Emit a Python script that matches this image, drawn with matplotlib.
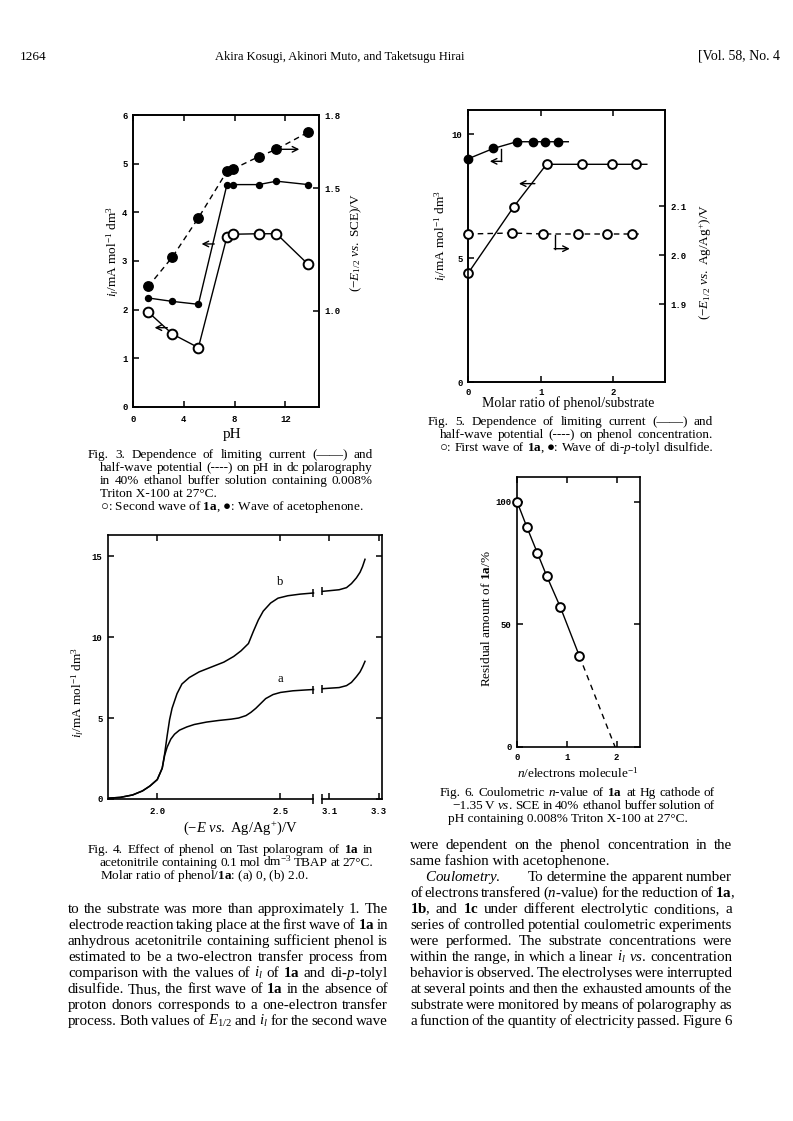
import numpy as np
import matplotlib
matplotlib.use("Agg")
import matplotlib.pyplot as plt

W, H = 793, 1121

plt.rcParams["font.family"] = ["Liberation Serif", "DejaVu Serif"]
plt.rcParams["mathtext.fontset"] = "custom"
plt.rcParams["mathtext.rm"] = "Liberation Serif"
plt.rcParams["mathtext.it"] = "Liberation Serif:italic"
plt.rcParams["mathtext.bf"] = "Liberation Serif:bold"

# ---- Fig. 3: limiting current / half-wave potential vs pH ----
ph = [1.2, 3.1, 5.15, 7.4, 7.9, 9.9, 11.3, 13.8]
il_1a_second = [1.95, 1.50, 1.22, 3.50, 3.55, 3.56, 3.56, 2.93]
il_aceto = [2.24, 2.17, 2.11, 4.57, 4.57, 4.57, 4.64, 4.57]
e12_aceto = [1.10, 1.22, 1.38, 1.57, 1.58, 1.63, 1.66, 1.73]
ph_ticks = [0, 4, 8, 12]
il3_ticks = [0, 1, 2, 3, 4, 5, 6]
e3_ticks = [1.0, 1.5, 1.8]

# ---- Fig. 5: phenol concentration ----
ratio_ds = [0.0, 0.35, 0.67, 0.89, 1.06, 1.24]
il_ds = [9.0, 9.42, 9.69, 9.69, 9.69, 9.69]
ds_line_end = 1.38
ratio_1a = [0.0, 0.63, 1.08, 1.57, 1.98, 2.31]
il_1a_first = [4.38, 7.07, 8.78, 8.78, 8.78, 8.78]
first_line_end = 2.46
ratio_e = [0.0, 0.6, 1.03, 1.52, 1.91, 2.25]
e12_1a = [2.043, 2.045, 2.043, 2.043, 2.043, 2.043]
e_line_end = 2.37
ratio_ticks = [0, 1, 2]
il5_ticks = [0, 5, 10]
e5_ticks = [1.9, 2.0, 2.1]

# ---- Fig. 4: Tast polarograms (broken potential axis) ----
e_break = (2.634, 3.072)
b_left_E = [1.80, 1.85, 1.90, 1.94, 1.97, 2.00, 2.02, 2.03, 2.04, 2.05, 2.06, 2.08,
            2.10, 2.13, 2.17, 2.22, 2.27, 2.31, 2.34, 2.37, 2.39, 2.41, 2.43, 2.46,
            2.49, 2.53, 2.58, 2.634]
b_left_i = [0.05, 0.10, 0.25, 0.50, 0.80, 1.20, 1.90, 2.80, 3.90, 4.90, 5.60, 6.50,
            7.10, 7.50, 7.85, 8.15, 8.45, 8.80, 9.15, 9.60, 10.35, 11.05, 11.60, 12.10,
            12.40, 12.55, 12.65, 12.72]
b_right_E = [3.072, 3.10, 3.14, 3.17, 3.19, 3.21, 3.225, 3.235, 3.245]
b_right_i = [12.82, 12.86, 12.92, 13.05, 13.30, 13.65, 14.00, 14.35, 14.80]
a_left_E = [1.80, 1.85, 1.90, 1.94, 1.97, 2.00, 2.02, 2.03, 2.04, 2.055, 2.07, 2.09,
            2.12, 2.15, 2.20, 2.25, 2.30, 2.33, 2.36, 2.38, 2.40, 2.42, 2.44, 2.47,
            2.50, 2.55, 2.60, 2.634]
a_left_i = [0.05, 0.10, 0.25, 0.50, 0.80, 1.20, 1.90, 2.70, 3.20, 3.70, 4.00, 4.25,
            4.45, 4.60, 4.75, 4.85, 4.93, 5.00, 5.15, 5.35, 5.60, 5.90, 6.20, 6.45,
            6.58, 6.68, 6.73, 6.76]
a_right_E = [3.072, 3.10, 3.14, 3.17, 3.19, 3.21, 3.225, 3.235, 3.245]
a_right_i = [6.81, 6.84, 6.88, 7.00, 7.20, 7.55, 7.85, 8.15, 8.50]
e4_ticks = [2.0, 2.5, 3.1, 3.3]
il4_ticks = [0, 5, 10, 15]

# ---- Fig. 6: coulometry ----
n_el = [0.0, 0.2, 0.41, 0.6, 0.87, 1.25]
residual = [100, 89.5, 79.0, 69.5, 57.0, 37.2]
extrap_n = [1.25, 1.97]
extrap_res = [37.2, 0.0]
n_ticks = [0, 1, 2]
res_ticks = [0, 50, 100]

TICK = dict(fontfamily="Liberation Mono", fontweight="bold", fontsize=6.5)
OPEN = dict(marker="o", mfc="white", mec="k", mew=1.4, clip_on=False, zorder=4)
FILL = dict(marker="o", mfc="k", mec="k", clip_on=False, zorder=4)
ARROW = dict(arrowstyle="->", lw=1.0, color="k", mutation_scale=10,
             shrinkA=0, shrinkB=0)
CAP = 9.5     # caption size
BODY = 10.8   # running text size
LAB = 9.5     # axis label size

fig = plt.figure(figsize=(W / 100, H / 100), dpi=100)
renderer = fig.canvas.get_renderer()


def box(x0, y0, x1, y1):
    return fig.add_axes([x0 / W, 1 - y1 / H, (x1 - x0) / W, (y1 - y0) / H])


def frame(ax, **sides):
    for sp in ax.spines.values():
        sp.set_linewidth(1.2)
    ax.tick_params(direction="in", length=4.5, width=1.1, pad=4, **sides)


def ptext(x, y, s, **kw):
    return fig.text(x / W, 1 - y / H, s, **kw)


def put_line(s, x0, x1, y, size, justify=True):
    if not justify:
        ptext(x0, y, s, fontsize=size, va="baseline")
        return
    words = s.split()
    arts = [ptext(x0, y, w, fontsize=size, va="baseline") for w in words]
    widths = [a.get_window_extent(renderer).width for a in arts]
    gap = max((x1 - x0 - sum(widths)) / max(len(words) - 1, 1), 2.0)
    x = x0
    for a, w in zip(arts, widths):
        a.set_x(x / W)
        x += w + gap


# header
ptext(20, 60, "1264", fontsize=9.5, va="baseline")
ptext(340, 60, "Akira Kosugi, Akinori Muto, and Taketsugu Hirai", fontsize=9,
      va="baseline", ha="center")
ptext(780, 60, "[Vol. 58, No. 4", fontsize=10, va="baseline", ha="right")

# ================= Fig. 3 =================
ax3 = box(133, 115, 319, 407)
frame(ax3, top=True)
ax3.set_xlim(0, 14.65)
ax3.set_ylim(0, 6)
ax3.set_xticks(ph_ticks, [str(t) for t in ph_ticks], **TICK)
ax3.set_yticks(il3_ticks, [str(t) for t in il3_ticks], **TICK)
ax3.tick_params(axis="x", pad=6)
ax3.plot(ph, il_aceto, "-", color="k", lw=1, ms=4.3, **FILL)
ax3.plot(ph, il_1a_second, "-", color="k", lw=1, ms=7, **OPEN)
ax3r = ax3.twinx()
frame(ax3r)
ax3r.set_ylim(0.608, 1.8)
ax3r.set_yticks(e3_ticks, [f"{t:.1f}" for t in e3_ticks], **TICK)
ax3r.plot(ph, e12_aceto, color="k", lw=1, ls=(0, (4, 3)), ms=6.8, **FILL)
ax3r.annotate("", xy=(13.1, 1.66), xytext=(11.7, 1.66), arrowprops=ARROW)
ax3.annotate("", xy=(5.4, 3.35), xytext=(6.4, 3.35), arrowprops=ARROW)
ax3.annotate("", xy=(1.7, 1.63), xytext=(2.7, 1.63), arrowprops=ARROW)
ptext(113, 252, r"$i_l$/mA mol$^{-1}$ dm$^3$", fontsize=LAB, rotation=90,
      ha="center", va="center")
ptext(356, 243, r"($-E_{1/2}$ $\mathit{vs.}$ SCE)/V", fontsize=LAB, rotation=90,
      ha="center", va="center")
ptext(232, 434, "pH", fontsize=11, ha="center", va="center")

cap3 = ["Fig. 3.  Dependence of limiting current (——) and",
        "half-wave potential (----) on pH in dc polarography",
        "in 40% ethanol buffer solution containing 0.008%",
        "Triton X-100 at 27°C.",
        r"○: Second wave of $\mathbf{1a}$, ●: Wave of acetophenone."]
put_line(cap3[0], 88, 373, 458, CAP)
put_line(cap3[1], 100, 373, 471, CAP)
put_line(cap3[2], 100, 373, 484, CAP)
put_line(cap3[3], 100, 373, 497, CAP, justify=False)
put_line(cap3[4], 100, 373, 510, CAP, justify=False)

# ================= Fig. 5 =================
ax5 = box(468, 110, 665, 382)
frame(ax5, top=True)
ax5.set_xlim(0, 2.71)
ax5.set_ylim(0, 10.97)
ax5.set_xticks(ratio_ticks, [str(t) for t in ratio_ticks], **TICK)
ax5.set_yticks(il5_ticks, [str(t) for t in il5_ticks], **TICK)
ax5.plot([*ratio_ds, ds_line_end], [*il_ds, il_ds[-1]], "k-", lw=1)
ax5.plot(ratio_ds, il_ds, ls="none", ms=6, **FILL)
ax5.plot([*ratio_1a, first_line_end], [*il_1a_first, il_1a_first[-1]], "k-", lw=1)
ax5.plot(ratio_1a, il_1a_first, ls="none", ms=6.3, **OPEN)
ax5r = ax5.twinx()
frame(ax5r)
ax5r.set_ylim(1.741, 2.296)
ax5r.set_yticks(e5_ticks, [f"{t:.1f}" for t in e5_ticks], **TICK)
ax5r.plot([*ratio_e, e_line_end], [*e12_1a, e12_1a[-1]], color="k", lw=1,
          ls=(0, (4, 3)))
ax5r.plot(ratio_e, e12_1a, ls="none", ms=6.3, **OPEN)
ax5.plot([0.46, 0.46], [9.4, 8.9], "k-", lw=1.0)
ax5.annotate("", xy=(0.30, 8.9), xytext=(0.465, 8.9), arrowprops=ARROW)
ax5.annotate("", xy=(0.70, 8.0), xytext=(0.92, 8.0), arrowprops=ARROW)
ax5r.plot([1.19, 1.19], [2.040, 2.013], "k-", lw=1.0)
ax5r.annotate("", xy=(1.40, 2.013), xytext=(1.185, 2.013), arrowprops=ARROW)
ptext(441, 236, r"$i_l$/mA mol$^{-1}$ dm$^3$", fontsize=LAB, rotation=90,
      ha="center", va="center")
ptext(706, 262, r"($-E_{1/2}$ $\mathit{vs.}$ Ag/Ag$^{+}$)/V", fontsize=LAB,
      rotation=90, ha="center", va="center")
ptext(568, 403, "Molar ratio of phenol/substrate", fontsize=10, ha="center",
      va="center")

cap5 = ["Fig. 5.  Dependence of limiting current (——) and",
        "half-wave potential (----) on phenol concentration.",
        r"○: First wave of $\mathbf{1a}$, ●: Wave of di-$p$-tolyl disulfide."]
put_line(cap5[0], 428, 713, 425, CAP)
put_line(cap5[1], 440, 713, 438, CAP)
put_line(cap5[2], 440, 713, 451, CAP)

# ================= Fig. 4 =================
def e_fwd(x):
    return np.interp(x, [-10, e_break[0], e_break[1], 10],
                     [-10, e_break[0], e_break[0] + 0.036, 10 - e_break[1] + e_break[0] + 0.036])


def e_inv(u):
    return np.interp(u, [-10, e_break[0], e_break[0] + 0.036, 10 - e_break[1] + e_break[0] + 0.036],
                     [-10, e_break[0], e_break[1], 10])


ax4 = box(108, 535, 382, 799)
frame(ax4, top=True, right=True)
ax4.set_xscale("function", functions=(e_fwd, e_inv))
ax4.set_xlim(1.80, 3.314)
ax4.set_ylim(0, 16.3)
ax4.set_xticks(e4_ticks, [f"{t:.1f}" for t in e4_ticks], **TICK)
ax4.set_yticks(il4_ticks, [str(t) for t in il4_ticks], **TICK)
ax4.tick_params(axis="x", pad=6)
ax4.spines["bottom"].set_visible(False)
xt = ax4.get_xaxis_transform()
ax4.plot([1.80, e_break[0]], [0, 0], "k-", lw=1.2, transform=xt, clip_on=False)
ax4.plot([e_break[1], 3.314], [0, 0], "k-", lw=1.2, transform=xt, clip_on=False)
ax4.plot(e_break, [0, 0], "k", ls="none", marker="|", ms=7, mew=1.1,
         transform=xt, clip_on=False)
for E_l, i_l, E_r, i_r in [(b_left_E, b_left_i, b_right_E, b_right_i),
                           (a_left_E, a_left_i, a_right_E, a_right_i)]:
    ax4.plot(E_l, i_l, "k-", lw=1.1)
    ax4.plot(E_r, i_r, "k-", lw=1.1)
    ax4.plot([E_l[-1], E_r[0]], [i_l[-1], i_r[0]], "k", ls="none", marker="|",
             ms=6, mew=1.1)
ax4.text(2.50, 13.4, "b", fontsize=9, ha="center", va="center")
ax4.text(2.50, 7.4, "a", fontsize=9, ha="center", va="center")
ptext(78, 693, r"$i_l$/mA mol$^{-1}$ dm$^3$", fontsize=LAB, rotation=90,
      ha="center", va="center")
ptext(240, 828, r"($-E$ $\mathit{vs.}$ Ag/Ag$^{+}$)/V", fontsize=10.5,
      ha="center", va="center")

cap4 = [r"Fig. 4.  Effect of phenol on Tast polarogram of $\mathbf{1a}$ in",
        r"acetonitrile containing 0.1 mol dm$^{-3}$ TBAP at 27°C.",
        r"Molar ratio of phenol/$\mathbf{1a}$: (a) 0, (b) 2.0."]
put_line(cap4[0], 88, 373, 853, CAP)
put_line(cap4[1], 100, 373, 866, CAP)
put_line(cap4[2], 100, 373, 879, CAP, justify=False)

# ================= Fig. 6 =================
ax6 = box(517, 477, 640, 747)
frame(ax6, top=True, right=True)
ax6.set_xlim(0, 2.47)
ax6.set_ylim(0, 110)
ax6.set_xticks(n_ticks, [str(t) for t in n_ticks], **TICK)
ax6.set_yticks(res_ticks, [str(t) for t in res_ticks], **TICK)
ax6.plot(n_el, residual, "-", color="k", lw=1, ms=6.3, **OPEN)
ax6.plot(extrap_n, extrap_res, color="k", lw=1, ls=(0, (4, 3.5)))
ptext(487, 619, r"Residual amount of $\mathbf{1a}$/%", fontsize=LAB, rotation=90,
      ha="center", va="center")
ptext(578, 773, r"$n$/electrons molecule$^{-1}$", fontsize=LAB, ha="center",
      va="center")

cap6 = [r"Fig. 6.  Coulometric $n$-value of $\mathbf{1a}$ at Hg cathode of",
        r"−1.35 V $\mathit{vs.}$ SCE in 40% ethanol buffer solution of",
        "pH containing 0.008% Triton X-100 at 27°C."]
put_line(cap6[0], 440, 715, 796, CAP)
put_line(cap6[1], 452, 715, 809, CAP)
put_line(cap6[2], 448, 715, 822, CAP, justify=False)

# ================= body text =================
left_col = [
    "to the substrate was more than approximately 1.  The",
    r"electrode reaction taking place at the first wave of $\mathbf{1a}$ in",
    "anhydrous acetonitrile containing sufficient phenol is",
    "estimated to be a two-electron transfer process from",
    r"comparison with the values of $i_l$ of $\mathbf{1a}$ and di-$p$-tolyl",
    r"disulfide.  Thus, the first wave of $\mathbf{1a}$ in the absence of",
    "proton donors corresponds to a one-electron transfer",
    r"process.  Both values of $E_{1/2}$ and $i_l$ for the second wave",
]
for k, s in enumerate(left_col):
    put_line(s, 68, 388, 913 + 16 * k, BODY)

right_col = [
    "were dependent on the phenol concentration in the",
    "same fashion with acetophenone.",
    "To determine the apparent number",
    r"of electrons transfered ($n$-value) for the reduction of $\mathbf{1a}$,",
    r"$\mathbf{1b}$, and $\mathbf{1c}$ under different electrolytic conditions, a",
    "series of controlled potential coulometric experiments",
    "were performed.  The substrate concentrations were",
    r"within the range, in which a linear $i_l$ $\mathit{vs.}$ concentration",
    "behavior is observed.  The electrolyses were interrupted",
    "at several points and then the exhausted amounts of the",
    "substrate were monitored by means of polarography as",
    "a function of the quantity of electricity passed.  Figure 6",
]
for k, s in enumerate(right_col):
    y = 849 + 16 * k
    if k == 1:
        put_line(s, 410, 732, y, BODY, justify=False)
    elif k == 2:
        ptext(425, y, r"$\mathit{Coulometry.}$", fontsize=BODY, va="baseline")
        put_line(s, 528, 732, y, BODY)
    else:
        put_line(s, 410, 732, y, BODY)

fig.savefig("out.png", dpi=100)
